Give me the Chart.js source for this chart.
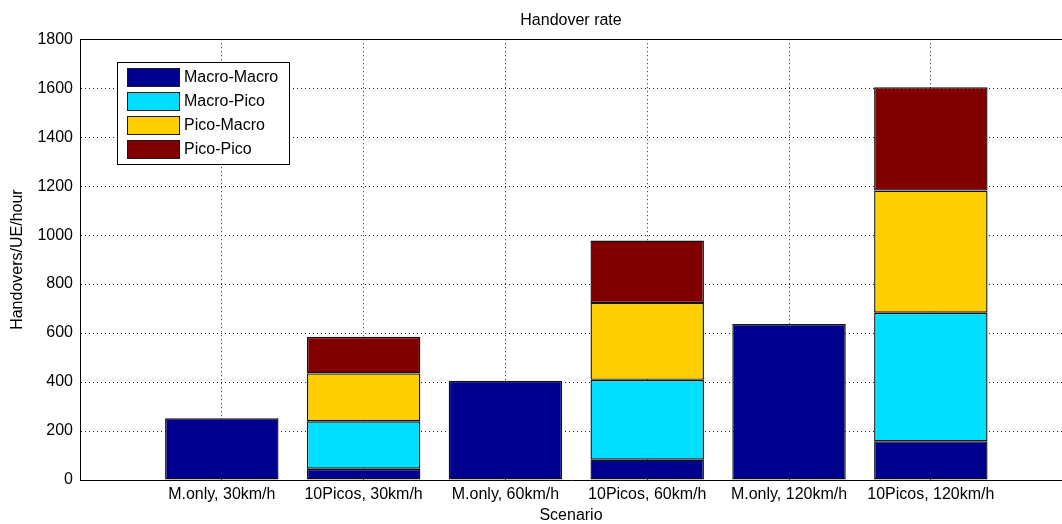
<!DOCTYPE html>
<html>
<head>
<meta charset="utf-8">
<script src="https://cdn.jsdelivr.net/npm/chart.js@4.4.1/dist/chart.umd.min.js"></script>
<style>
  html, body { margin: 0; padding: 0; background: #fff; overflow: hidden; }
  #wrap { width: 1062px; height: 524px; }
</style>
</head>
<body>
<div id="wrap"><canvas id="hoChart"></canvas></div>
<script>
// scenarios on the x axis
var scenarios = ['M.only, 30km/h', '10Picos, 30km/h', 'M.only, 60km/h', '10Picos, 60km/h', 'M.only, 120km/h', '10Picos, 120km/h'];

// handovers/UE/hour per handover type
var macroMacro = [252, 46, 405, 83, 637, 158];
var macroPico  = [0, 194, 0, 326, 0, 525];
var picoMacro  = [0, 195, 0, 314, 0, 499];
var picoPico   = [0, 150, 0, 255, 0, 422];

var yTicks = [0, 200, 400, 600, 800, 1000, 1200, 1400, 1600, 1800];

Chart.defaults.font.family = '"Liberation Sans", Arial, sans-serif';
Chart.defaults.font.size = 16;
Chart.defaults.color = '#000';

function pts(arr) {
    return arr.map(function (v, i) { return { x: i + 1, y: v }; });
}

function ds(label, arr, color) {
    return {
        label: label,
        data: pts(arr),
        backgroundColor: color,
        borderColor: '#111',
        borderWidth: 1.4,
        borderSkipped: false,
        barPercentage: 1,
        categoryPercentage: 0.8,
    };
}

// matlab-ish legend drawn inside the plot, plus the top frame line
var boxLegend = {
    id: 'boxLegend',
    afterDraw: function (chart) {
        var ctx = chart.ctx;
        var a = chart.chartArea;
        ctx.save();
        ctx.strokeStyle = '#000';
        ctx.lineWidth = 1;
        ctx.beginPath();
        ctx.moveTo(a.left, Math.round(a.top) + 0.5);
        ctx.lineTo(a.right, Math.round(a.top) + 0.5);
        ctx.stroke();

        var x0 = 117, y0 = 62, w = 172, h = 102;
        ctx.fillStyle = '#fff';
        ctx.fillRect(x0, y0, w, h);
        ctx.strokeRect(x0 + 0.5, y0 + 0.5, w, h);
        ctx.font = '16px "Liberation Sans", Arial, sans-serif';
        ctx.textBaseline = 'middle';
        chart.data.datasets.forEach(function (d, i) {
            var top = 68 + i * 24;
            ctx.fillStyle = d.backgroundColor;
            ctx.fillRect(127, top, 52, 18);
            ctx.strokeStyle = '#1a1a1a';
            ctx.strokeRect(127.5, top + 0.5, 52, 18);
            ctx.fillStyle = '#000';
            ctx.fillText(d.label, 184, top + 10);
        });
        ctx.restore();
    }
};

var hoChart = new Chart(document.getElementById('hoChart'), {
    type: 'bar',
    data: {
        datasets: [
            ds('Macro-Macro', macroMacro, 'rgb(0,0,143)'),
            ds('Macro-Pico', macroPico, 'rgb(0,223,255)'),
            ds('Pico-Macro', picoMacro, 'rgb(255,207,0)'),
            ds('Pico-Pico', picoPico, 'rgb(128,0,0)'),
        ]
    },
    options: {
        responsive: true,
        maintainAspectRatio: false,
        animation: false,
        layout: { padding: 0 },
        plugins: {
            legend: { display: false },
            tooltip: { enabled: false },
            title: {
                display: true,
                text: 'Handover rate',
                fullSize: false,
                font: { size: 16, weight: 'normal' },
                color: '#000',
                padding: { top: 11, bottom: 9 },
            },
        },
        scales: {
            x: {
                type: 'linear',
                stacked: true,
                offset: false,
                min: 0,
                max: 6.925,
                afterBuildTicks: function (s) {
                    s.ticks = scenarios.map(function (c, i) { return { value: i + 1 }; });
                },
                afterFit: function (s) { s.height = 44; },
                ticks: {
                    autoSkip: false,
                    maxRotation: 0,
                    padding: 5,
                    callback: function (v) { return scenarios[v - 1]; },
                },
                grid: { color: '#222', drawTicks: false, offset: false },
                border: { color: '#000', width: 1, dash: [1, 3] },
                title: {
                    display: true,
                    text: 'Scenario',
                    font: { size: 16, lineHeight: 1 },
                    padding: 0,
                },
            },
            y: {
                stacked: true,
                min: 0,
                max: 1800,
                afterBuildTicks: function (s) {
                    s.ticks = yTicks.map(function (v) { return { value: v }; });
                },
                afterFit: function (s) { s.width = 80; },
                ticks: {
                    padding: 7,
                    callback: function (v) { return String(v); },
                },
                grid: { color: '#222', drawTicks: false },
                border: { color: '#000', width: 1, dash: [1, 3] },
                title: {
                    display: true,
                    text: 'Handovers/UE/hour',
                    font: { size: 16 },
                    padding: { top: 8, bottom: 0 },
                },
            },
        },
    },
    plugins: [boxLegend],
});
</script>
</body>
</html>
